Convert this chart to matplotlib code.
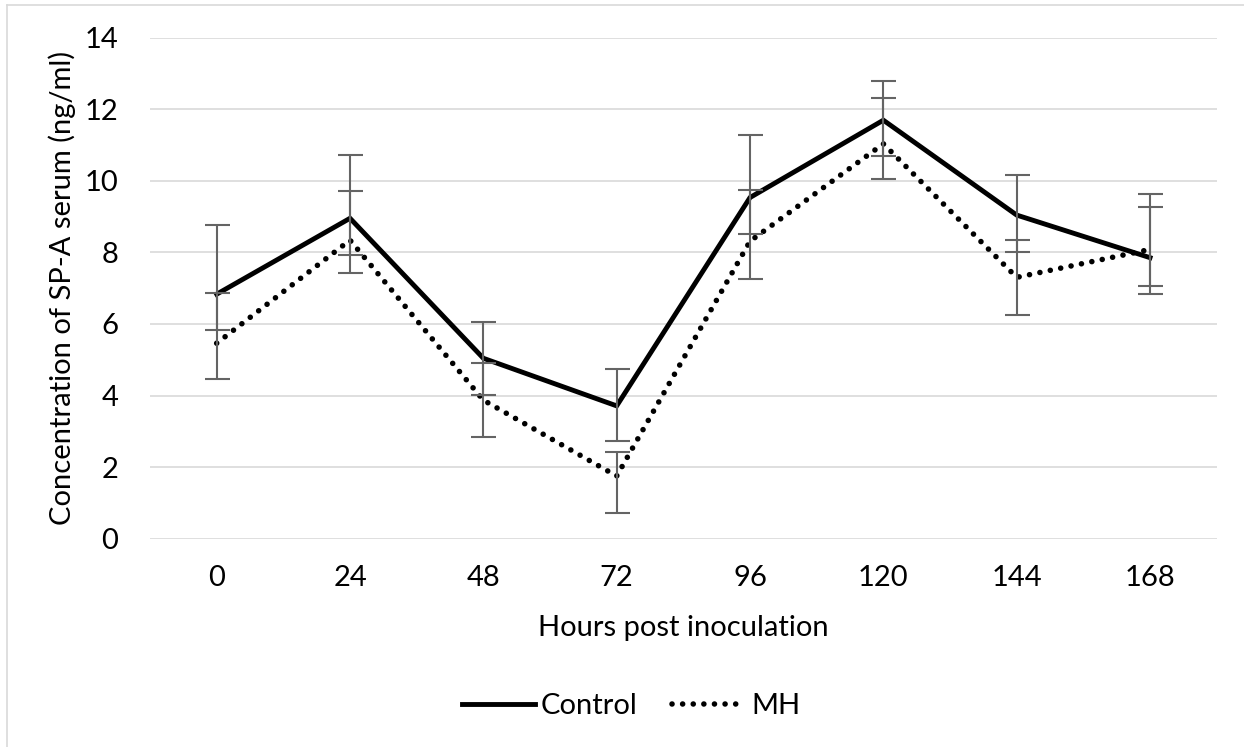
import matplotlib
matplotlib.use("Agg")
import matplotlib.pyplot as plt
from matplotlib.lines import Line2D

# data
horas = ["0", "24", "48", "72", "96", "120", "144", "168"]
control = [6.83, 8.95, 5.04, 3.71, 9.53, 11.69, 9.04, 7.85]
mh = [5.46, 8.34, 3.87, 1.75, 8.31, 11.03, 7.30, 8.08]
# error bar ends (top / bottom caps)
control_hi = [8.75, 10.71, 6.06, 4.74, 11.28, 12.79, 10.17, 9.63]
control_lo = [5.83, 7.92, 4.01, 2.72, 8.52, 10.69, 8.00, 6.84]
mh_hi = [6.85, 9.72, 4.92, 2.43, 9.74, 12.32, 8.34, 9.27]
mh_lo = [4.46, 7.43, 2.85, 0.73, 7.25, 10.06, 6.26, 7.07]
yticks = [0, 2, 4, 6, 8, 10, 12, 14]

plt.rcParams["font.family"] = ["Lato", "DejaVu Sans"]
FS = 21

fig = plt.figure(figsize=(12.44, 7.47), dpi=100)
ax = fig.add_axes([150 / 1244, 1 - 538.7 / 747, (1216.7 - 150) / 1244, (538.7 - 37.5) / 747])

x = list(range(len(horas)))
cinza = "#646464"
pontilhado = (0, (0.01, 1.9))

ax.plot(x, control, color="black", lw=3.5, solid_joinstyle="miter", zorder=3)
ax.errorbar(x, control,
            yerr=[[c - l for c, l in zip(control, control_lo)],
                  [h - c for c, h in zip(control, control_hi)]],
            fmt="none", ecolor=cinza, elinewidth=1.5, capsize=9, capthick=1.5, zorder=4)

ax.plot(x, mh, color="black", lw=4.0, linestyle=pontilhado,
        dash_capstyle="round", zorder=3)
ax.errorbar(x, mh,
            yerr=[[m - l for m, l in zip(mh, mh_lo)],
                  [h - m for m, h in zip(mh, mh_hi)]],
            fmt="none", ecolor=cinza, elinewidth=1.5, capsize=9, capthick=1.5, zorder=4)

ax.set_xlim(-0.5, 7.5)
ax.set_ylim(0, 14)
ax.set_yticks(yticks)
ax.set_xticks(x)
ax.set_xticklabels(horas)
ax.grid(axis="y", color="#d9d9d9", lw=1.2)
ax.set_axisbelow(True)
for s in ax.spines.values():
    s.set_visible(False)
ax.tick_params(axis="both", length=0, labelsize=FS, colors="black")
ax.tick_params(axis="y", pad=23)
ax.tick_params(axis="x", pad=19)

fig.text(62 / 1244, 1 - 288 / 747, "Concentration of SP-A serum (ng/ml)",
         rotation=90, ha="center", va="center", fontsize=FS)
fig.text(683 / 1244, 1 - 628 / 747, "Hours post inoculation",
         ha="center", va="center", fontsize=FS)

# legenda
handles = [
    Line2D([], [], color="black", lw=3.5),
    Line2D([], [], color="black", lw=4.0, linestyle=pontilhado, dash_capstyle="round"),
]
fig.legend(handles, ["Control", "MH"], loc="center", bbox_to_anchor=(631 / 1244, 1 - 706 / 747),
           ncol=2, frameon=False, fontsize=FS, handlelength=2.5, handletextpad=0.2,
           columnspacing=1.2)

# borda da area do grafico
fig.add_artist(Line2D([7 / 1244, 7 / 1244], [0, 1 - 5 / 747], color="#d9d9d9", lw=1.2))
fig.add_artist(Line2D([7 / 1244, 1], [1 - 5 / 747, 1 - 5 / 747], color="#d9d9d9", lw=1.2))

fig.savefig("out.png", dpi=100)
